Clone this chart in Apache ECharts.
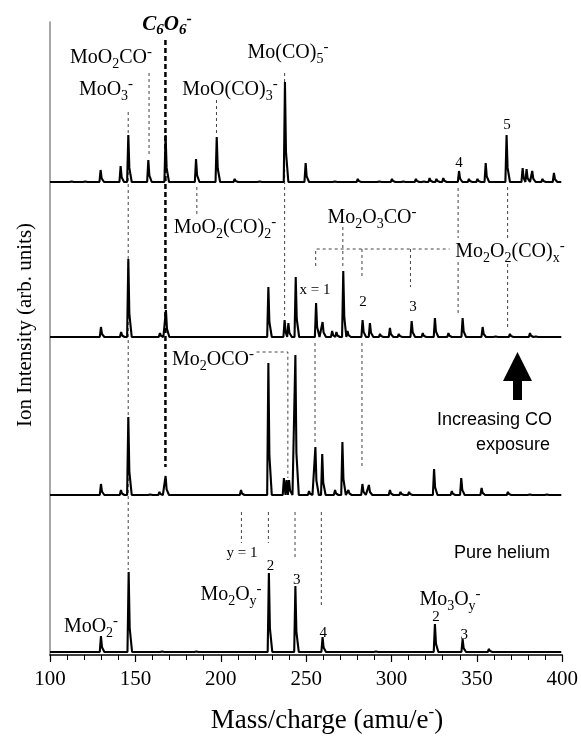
<!DOCTYPE html>
<html>
<head>
<meta charset="utf-8">
<script src="https://cdn.jsdelivr.net/npm/echarts@6/dist/echarts.min.js"></script>
<style>
  html, body { margin: 0; padding: 0; background: #fff; }
  #chart { width: 581px; height: 736px; }
</style>
</head>
<body>
<div id="chart"></div>
<script>
// peak lists [m/z, intensity (arb.)], top trace first
const peaksHighCO = [
  [112, 2], [120, 2], [129.6, 12], [141.3, 16], [145.8, 47], [157.5, 22], [167.6, 47],
  [185.4, 23], [197.5, 45], [208, 3], [222, 2], [237.4, 100], [249.5, 19], [266, 2],
  [280, 3], [292, 2], [300, 3], [306, 2], [314, 3], [318, 2], [322, 4], [326, 3],
  [330, 4], [339.2, 11], [345, 3], [350, 3], [354.8, 19], [367, 47], [376.4, 14],
  [378.7, 13], [382, 11], [388, 3], [394.7, 9]
];
const peaksMidCO = [
  [129.8, 10], [141.6, 5], [145.8, 78], [164.3, 4], [167.8, 27], [227.7, 50],
  [237.2, 17], [239.4, 14], [243.7, 60], [255.6, 34], [259.4, 15], [265, 6],
  [267.5, 5], [271.5, 66], [274, 6], [282.8, 17], [287.1, 14], [293, 3], [298.8, 9],
  [304, 3], [311.5, 16], [318, 4], [325.1, 19], [333, 4], [341.3, 19], [353, 10],
  [360, 2], [369, 3], [380.7, 4], [383.5, 2]
];
const peaksLowCO = [
  [129.8, 11], [141.5, 5], [145.8, 78], [158, 2], [164, 3], [167.6, 19], [211.7, 5],
  [227.7, 132], [236.8, 17], [238.4, 15], [239.8, 15], [243.5, 140], [251.5, 4],
  [255.2, 48], [259.2, 41], [266.7, 5], [271, 53], [274.5, 5], [282.7, 11],
  [286.5, 10], [298.8, 5], [305, 3], [310, 3], [324.6, 26], [335, 4], [340.5, 17],
  [352.4, 7], [367.8, 3], [380, 2], [390, 2]
];
const peaksHelium = [
  [129.8, 16], [146, 80], [165, 2], [185, 1.5], [228, 79], [243.5, 66], [259.4, 15],
  [290, 1.5], [325.1, 28], [341.3, 13], [356.7, 3]
];
const xTicks = [100, 150, 200, 250, 300, 350, 400];

const SERIF = '"Liberation Serif", "DejaVu Serif", serif';
const SANS = '"Liberation Sans", Arial, sans-serif';

// baseline pixel of each trace, top to bottom
const baselines = [182, 337, 495, 652];
const traces = [peaksHighCO, peaksMidCO, peaksLowCO, peaksHelium];

// peak list -> line points (narrow peak with a short tail)
function traceFrom(peaks) {
  const pts = [[100, 0]];
  peaks.slice().sort((a, b) => a[0] - b[0]).forEach(([m, h]) => {
    [[m - 0.7, 0], [m, h], [m + 0.6, h * 0.3], [m + 2, 0]].forEach(p => {
      while (pts.length && pts[pts.length - 1][0] >= p[0]) pts.pop();
      pts.push(p);
    });
  });
  pts.push([399, 0]);
  return pts;
}

// guide lines on the overlay grid: x in m/z, y in page pixels
const guides = [
  [[158, 73], [158, 157]],
  [[145.8, 112], [145.8, 570]],
  [[197.5, 100], [197.5, 133]],
  [[237.4, 73], [237.4, 318]],
  [[186, 187], [186, 215]],
  [[221, 352], [239.3, 352], [239.3, 478]],
  [[271.5, 227], [271.5, 267]],
  [[255.6, 266], [255.6, 249], [334, 249]],
  [[282.7, 249], [282.7, 278]],
  [[311.1, 249], [311.1, 287]],
  [[339, 188], [339, 238]],
  [[339, 262], [339, 313]],
  [[368, 187], [368, 240]],
  [[368, 264], [368, 330]],
  [[255.2, 343], [255.2, 442]],
  [[282.7, 343], [282.7, 468]],
  [[258.9, 512], [258.9, 607]],
  [[212.1, 512], [212.1, 543]],
  [[227.9, 512], [227.9, 543]],
  [[243.5, 512], [243.5, 557]]
];
const boldGuide = [[167.6, 40], [167.6, 467]];

// "_x" subscript, "^x" superscript
function chem(str, key) {
  let out = '', buf = '';
  for (let i = 0; i < str.length; i++) {
    const c = str[i];
    if (c === '_' || c === '^') {
      if (buf) { out += '{' + key + '|' + buf + '}'; buf = ''; }
      out += '{' + key + (c === '_' ? 'Sub' : 'Sup') + '|' + str[i + 1] + '}';
      i++;
    } else buf += c;
  }
  if (buf) out += '{' + key + '|' + buf + '}';
  return out;
}

const rich = {
  f: { fontSize: 20, fontFamily: SERIF, lineHeight: 26, fill: '#000' },
  fSub: { fontSize: 14, fontFamily: SERIF, lineHeight: 14, verticalAlign: 'bottom', fill: '#000' },
  fSup: { fontSize: 15, fontFamily: SERIF, lineHeight: 14, verticalAlign: 'top', fill: '#000' },
  b: { fontSize: 21, fontFamily: SERIF, fontWeight: 'bold', fontStyle: 'italic', lineHeight: 26, fill: '#000' },
  bSub: { fontSize: 15, fontFamily: SERIF, fontWeight: 'bold', fontStyle: 'italic', lineHeight: 14, verticalAlign: 'bottom', fill: '#000' },
  bSup: { fontSize: 16, fontFamily: SERIF, fontWeight: 'bold', fontStyle: 'italic', lineHeight: 14, verticalAlign: 'top', fill: '#000' },
  t: { fontSize: 27, fontFamily: SERIF, lineHeight: 33, fill: '#000' },
  tSup: { fontSize: 17, fontFamily: SERIF, lineHeight: 17, verticalAlign: 'top', fill: '#000' }
};

// [text, x, y]
const formulaLabels = [
  ['MoO_2CO^-', 111, 58],
  ['MoO_3^-', 106, 90],
  ['MoO(CO)_3^-', 230, 90],
  ['Mo(CO)_5^-', 288, 53],
  ['MoO_2(CO)_2^-', 225, 228],
  ['Mo_2O_3CO^-', 372, 218],
  ['Mo_2O_2(CO)_x^-', 510, 252],
  ['Mo_2OCO^-', 213, 360],
  ['Mo_2O_y^-', 231, 595],
  ['MoO_2^-', 91, 627],
  ['Mo_3O_y^-', 450, 600]
];
const smallLabels = [
  ['5', 507, 125], ['4', 459, 163],
  ['x = 1', 315, 290], ['2', 363, 302], ['3', 413, 307],
  ['y = 1', 242, 553], ['2', 270.5, 566], ['3', 296.7, 580],
  ['4', 323.3, 633], ['2', 436, 617], ['3', 464.3, 635]
];

const chart = echarts.init(document.getElementById('chart'), null, { renderer: 'canvas' });

const grids = [{ left: 50, right: 18, top: 22, bottom: 81 }];
const xAxes = [{
  gridIndex: 0, type: 'value', min: 100, max: 400, interval: 50,
  axisLine: { onZero: false, lineStyle: { color: '#000', width: 1.5 } },
  axisTick: { length: 7, lineStyle: { color: '#000', width: 1.2 } },
  minorTick: { show: true, splitNumber: 5, length: 5, lineStyle: { color: '#000', width: 1 } },
  axisLabel: {
    margin: 14, fontSize: 21, fontFamily: SERIF, color: '#000',
    formatter: v => xTicks.includes(v) ? String(v) : ''
  },
  splitLine: { show: false }
}];
const yAxes = [{
  gridIndex: 0, type: 'value', min: 22, max: 655, inverse: true,
  axisLine: { show: true, onZero: false, lineStyle: { color: '#8a8a8a', width: 1.5 } },
  axisTick: { show: false }, axisLabel: { show: false }, splitLine: { show: false }
}];
const series = [];

guides.forEach(g => series.push({
  type: 'line', xAxisIndex: 0, yAxisIndex: 0, data: g, symbol: 'none', z: 1,
  lineStyle: { color: '#444', width: 1, type: [3, 3] }, silent: true
}));
series.push({
  type: 'line', xAxisIndex: 0, yAxisIndex: 0, data: boldGuide, symbol: 'none', z: 1,
  lineStyle: { color: '#000', width: 2.5, type: [5, 3] }, silent: true
});

traces.forEach((peaks, i) => {
  const gi = i + 1;
  grids.push({ left: 50, right: 18, bottom: 736 - baselines[i], height: 160 });
  xAxes.push({ gridIndex: gi, type: 'value', min: 100, max: 400, show: false });
  yAxes.push({ gridIndex: gi, type: 'value', min: 0, max: 160, show: false });
  series.push({
    type: 'line', xAxisIndex: gi, yAxisIndex: gi, data: traceFrom(peaks),
    symbol: 'none', z: 5, lineStyle: { color: '#000', width: 2.1 }, silent: true
  });
});

const graphics = [];
formulaLabels.forEach(([s, x, y]) => graphics.push({
  type: 'text', x, y, z: 10,
  style: { text: chem(s, 'f'), rich, align: 'center', verticalAlign: 'middle' }
}));
graphics.push({
  type: 'text', x: 167, y: 25, z: 10,
  style: { text: chem('C_6O_6^-', 'b'), rich, align: 'center', verticalAlign: 'middle' }
});
smallLabels.forEach(([s, x, y]) => graphics.push({
  type: 'text', x, y, z: 10,
  style: { text: s, font: '15px ' + SERIF, fill: '#000', align: 'center', verticalAlign: 'middle' }
}));
graphics.push(
  { type: 'text', x: 552, y: 420, style: { text: 'Increasing CO', font: '18px ' + SANS, fill: '#000', align: 'right', verticalAlign: 'middle' } },
  { type: 'text', x: 550, y: 445, style: { text: 'exposure', font: '18px ' + SANS, fill: '#000', align: 'right', verticalAlign: 'middle' } },
  { type: 'text', x: 550, y: 553, style: { text: 'Pure helium', font: '18px ' + SANS, fill: '#000', align: 'right', verticalAlign: 'middle' } },
  {
    type: 'polygon', z: 10,
    shape: { points: [[517.5, 352], [503, 381], [513, 381], [513, 400], [522, 400], [522, 381], [532, 381]] },
    style: { fill: '#000' }
  },
  {
    type: 'text', x: 327, y: 721,
    style: { text: chem('Mass/charge (amu/e^-)', 't'), rich, align: 'center', verticalAlign: 'middle' }
  },
  {
    type: 'text', x: 25, y: 325, rotation: Math.PI / 2,
    style: { text: 'Ion Intensity (arb. units)', font: '21px ' + SERIF, fill: '#000', align: 'center', verticalAlign: 'middle' }
  }
);

chart.setOption({
  animation: false,
  backgroundColor: '#fff',
  grid: grids,
  xAxis: xAxes,
  yAxis: yAxes,
  series,
  graphic: graphics
});
</script>
</body>
</html>
